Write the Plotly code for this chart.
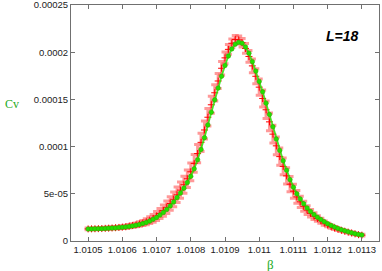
import plotly.graph_objects as go

beta = [1.01050, 1.01051, 1.01052, 1.01053, 1.01054, 1.01055, 1.01056, 1.01057, 1.01058, 1.01059,
        1.01060, 1.01061, 1.01062, 1.01063, 1.01064, 1.01065, 1.01066, 1.01067, 1.01068, 1.01069,
        1.01070, 1.01071, 1.01072, 1.01073, 1.01074, 1.01075, 1.01076, 1.01077, 1.01078, 1.01079,
        1.01080, 1.01081, 1.01082, 1.01083, 1.01084, 1.01085, 1.01086, 1.01087, 1.01088, 1.01089,
        1.01090, 1.01091, 1.01092, 1.01093, 1.01094, 1.01095, 1.01096, 1.01097, 1.01098, 1.01099,
        1.01100, 1.01101, 1.01102, 1.01103, 1.01104, 1.01105, 1.01106, 1.01107, 1.01108, 1.01109,
        1.01110, 1.01111, 1.01112, 1.01113, 1.01114, 1.01115, 1.01116, 1.01117, 1.01118, 1.01119,
        1.01120, 1.01121, 1.01122, 1.01123, 1.01124, 1.01125, 1.01126, 1.01127, 1.01128, 1.01129,
        1.01130]

# values in units of 1e-5
cv_red = [1.28, 1.29, 1.30, 1.31, 1.32, 1.34, 1.36, 1.38, 1.41, 1.44,
          1.47, 1.51, 1.57, 1.64, 1.71, 1.80, 1.91, 2.04, 2.21, 2.40,
          2.65, 2.92, 3.22, 3.57, 3.97, 4.42, 4.89, 5.39, 5.96, 6.59,
          7.33, 8.22, 9.26, 10.45, 11.76, 13.11, 14.43, 15.70, 16.95, 18.3,
          19.4, 20.3, 20.95, 21.35, 21.3, 21.0, 20.4, 19.55, 18.55, 17.45,
          16.3, 15.1, 13.9, 12.62, 11.32, 10.08, 8.94, 7.9, 6.9, 6.02,
          5.28, 4.67, 4.15, 3.68, 3.27, 2.93, 2.63, 2.38, 2.15, 1.90,
          1.69, 1.52, 1.38, 1.25, 1.13, 1.03, 0.94, 0.85, 0.76, 0.67,
          0.62]

err_red = [0.10, 0.10, 0.10, 0.10, 0.10, 0.11, 0.11, 0.12, 0.12, 0.13,
           0.14, 0.15, 0.17, 0.19, 0.21, 0.24, 0.27, 0.31, 0.36, 0.41,
           0.47, 0.53, 0.60, 0.66, 0.72, 0.78, 0.82, 0.86, 0.90, 0.92,
           0.94, 0.95, 0.96, 0.96, 0.95, 0.93, 0.90, 0.86, 0.80, 0.72,
           0.62, 0.52, 0.45, 0.42, 0.42, 0.45, 0.52, 0.62, 0.72, 0.80,
           0.86, 0.90, 0.93, 0.95, 0.95, 0.94, 0.92, 0.89, 0.85, 0.80,
           0.74, 0.67, 0.60, 0.53, 0.46, 0.40, 0.35, 0.30, 0.26, 0.22,
           0.19, 0.17, 0.15, 0.13, 0.12, 0.11, 0.10, 0.10, 0.09, 0.09,
           0.09]

cv_green = [1.27, 1.28, 1.29, 1.30, 1.31, 1.33, 1.35, 1.37, 1.39, 1.42,
            1.45, 1.49, 1.54, 1.60, 1.67, 1.75, 1.85, 1.97, 2.12, 2.30,
            2.50, 2.75, 3.03, 3.35, 3.72, 4.14, 4.60, 5.08, 5.60, 6.20,
            6.85, 7.65, 8.60, 9.70, 10.95, 12.3, 13.65, 14.95, 16.2, 17.45,
            18.6, 19.6, 20.35, 20.85, 21.05, 20.95, 20.55, 19.9, 19.0, 18.0,
            16.9, 15.8, 14.6, 13.4, 12.1, 10.8, 9.6, 8.5, 7.5, 6.5,
            5.7, 5.0, 4.45, 3.95, 3.50, 3.12, 2.80, 2.52, 2.28, 2.05,
            1.84, 1.65, 1.48, 1.33, 1.20, 1.08, 0.97, 0.87, 0.78, 0.70,
            0.64]

x_ticks = [1.0105, 1.0106, 1.0107, 1.0108, 1.0109, 1.011, 1.0111, 1.0112, 1.0113]
x_tick_text = ["1.0105", "1.0106", "1.0107", "1.0108", "1.0109", "1.011", "1.0111", "1.0112", "1.0113"]
y_ticks = [0, 5e-05, 0.0001, 0.00015, 0.0002, 0.00025]
y_tick_text = ["0", "5e-05", "0.0001", "0.00015", "0.0002", "0.00025"]

scale = 1e-5
fig = go.Figure()

fig.add_trace(go.Scatter(
    x=beta, y=[v * scale for v in cv_red], mode="markers",
    marker=dict(symbol="cross-thin", size=5, color="rgba(0,0,0,0)",
                line=dict(color="#ff0000", width=1)),
    error_y=dict(type="data", array=[e * scale for e in err_red], visible=True,
                 color="rgba(255,70,70,0.55)", thickness=3, width=3.5),
    showlegend=False))

fig.add_trace(go.Scatter(
    x=beta, y=[v * scale for v in cv_green], mode="lines+markers",
    line=dict(color="rgba(40,230,10,0.85)", width=1.8),
    marker=dict(symbol="circle", size=4.5, color="#22e000",
                line=dict(color="#33aa00", width=0.6)),
    showlegend=False))

axis_common = dict(showline=True, linecolor="#707070", linewidth=1, mirror="ticks",
                   ticks="inside", ticklen=4, tickcolor="#707070", showgrid=False,
                   zeroline=False, automargin=False, ticklabeloverflow="allow",
                   tickfont=dict(family="Liberation Sans, Arial", size=9.5, color="#222"))

fig.update_xaxes(range=[1.01045, 1.01135], tickvals=x_ticks, ticktext=x_tick_text, **axis_common)
fig.update_yaxes(range=[0, 0.00025], tickvals=y_ticks, ticktext=y_tick_text, **axis_common)

fig.add_annotation(text="Cv", xref="paper", yref="paper", x=-0.192, y=0.58, showarrow=False,
                   xanchor="center", yanchor="middle",
                   font=dict(family="Liberation Serif, Times New Roman", size=12, color="#22aa22"))
fig.add_annotation(text="β", xref="paper", yref="paper", x=0.649, y=-0.10, showarrow=False,
                   xanchor="center", yanchor="middle",
                   font=dict(family="Liberation Serif, Times New Roman", size=13, color="#22aa22"))
fig.add_annotation(text="<b><i>L=18</i></b>", xref="paper", yref="paper", x=0.88, y=0.87,
                   xanchor="center", yanchor="middle",
                   showarrow=False, font=dict(family="Liberation Sans, Arial", size=14, color="#000"))

fig.update_layout(width=382, height=271, margin=dict(l=71, r=3, t=5, b=30),
                  plot_bgcolor="white", paper_bgcolor="white")

fig.write_html("out.html", config={"displayModeBar": False},
               post_script="document.body.style.margin='0';")
